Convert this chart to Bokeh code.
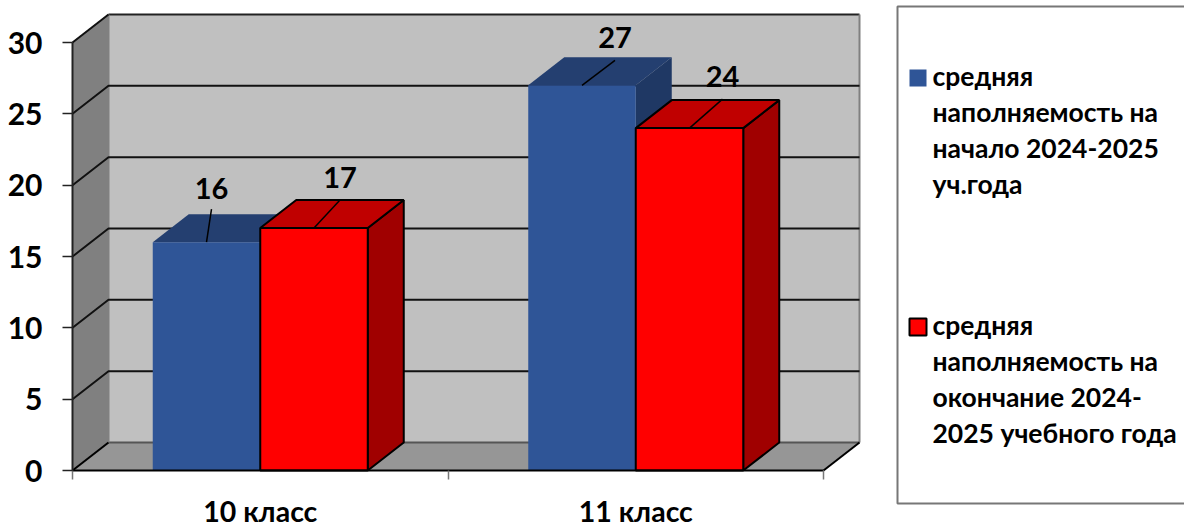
from bokeh.plotting import figure
from bokeh.embed import file_html
from bokeh.resources import INLINE
from bokeh.core.properties import value
from bokeh.models import Range1d, FixedTicker

categories = ["10 класс", "11 класс"]
series_names = [
    ["средняя", "наполняемость на", "начало 2024-2025", "уч.года"],
    ["средняя", "наполняемость на", "окончание 2024-", "2025 учебного года"],
]
start_values = [16, 27]
end_values = [17, 24]
y_ticks = [0, 5, 10, 15, 20, 25, 30]

FONT = "Lato"
W, H = 1184, 522
L, B = 72, 470              # pixel of x=0 / y=0
PX_X = 375.5                # pixels per category
PX_Y = 428 / 30             # pixels per value unit
DX, DY = 36 / PX_X, 28 / PX_Y   # 3D depth in data units
BW = 107.5 / PX_X           # bar width
XMAX = 2.0
YMAX = 30.0


def sx(px):
    return (px - L) / PX_X


def sy(py):
    return (B - py) / PX_Y


p = figure(width=W, height=H, output_backend="svg", toolbar_location=None,
           x_range=Range1d(sx(0), sx(W)), y_range=Range1d(sy(H), sy(0)),
           min_border_left=0, min_border_right=0, min_border_top=0,
           min_border_bottom=0, outline_line_color=None,
           background_fill_color="white", border_fill_color="white")
p.grid.visible = False

# walls
p.patch([0, DX, DX, 0], [0, DY, YMAX + DY, YMAX], fill_color="#808080", line_color="#6a6a6a", line_width=1)
p.patch([DX, XMAX + DX, XMAX + DX, DX], [DY, DY, YMAX + DY, YMAX + DY],
        fill_color="#c0c0c0", line_color=None)
p.line([DX, XMAX + DX], [YMAX + DY, YMAX + DY], line_color="#222222", line_width=2)
p.line([XMAX + DX, XMAX + DX], [DY, YMAX + DY], line_color="#808080", line_width=2)
p.patch([0, XMAX, XMAX + DX, DX], [0, 0, DY, DY], fill_color="#969696", line_color=None)
p.line([DX, XMAX + DX], [DY, DY], line_color="#555555", line_width=2)
p.line([DX, DX], [DY, YMAX + DY], line_color="#808080", line_width=2)
p.line([XMAX, XMAX + DX], [0, DY], line_color="black", line_width=2)

# gridlines
for t in y_ticks:
    if t == 0:
        p.line([0, DX], [0, DY], line_color="black", line_width=2)
    elif t == YMAX:
        p.line([0, DX], [t, t + DY], line_color="#111111", line_width=2)
    else:
        p.line([0, DX, XMAX + DX], [t, t + DY, t + DY], line_color="#111111", line_width=2)


def bar(x0, val, front, top, side, outline):
    x1 = x0 + BW
    lc = "black" if outline else None
    p.patch([x1, x1 + DX, x1 + DX, x1], [0, DY, val + DY, val], fill_color=side, line_color=lc, line_width=2)
    p.patch([x0, x0 + DX, x1 + DX, x1], [val, val + DY, val + DY, val], fill_color=top, line_color=lc, line_width=2)
    p.patch([x0, x1, x1, x0], [0, 0, val, val], fill_color=front, line_color=lc, line_width=2)


def leader(m, v, dx, dy, gap):
    p.line([m, m + dx / PX_X], [v, v + dy / PX_Y], line_color="black", line_width=1.5)
    p.text([m + dx / PX_X], [v + gap / PX_Y], text=[str(v)], text_font=value(FONT), text_font_style="bold",
           text_font_size="29px", text_align="center", text_baseline="bottom", text_color="black")


for i in range(len(categories)):
    c = i + 0.5
    bar(c - BW, start_values[i], "#2f5597", "#243f70", "#1f3864", False)
    bar(c, end_values[i], "#ff0000", "#c00000", "#a00000", True)

# leaders and data labels
leader(0.5 - BW / 2, start_values[0], 5, 33, 43)
leader(0.5 + BW / 2, end_values[0], 26, 28, 40)
leader(1.5 - BW / 2, start_values[1], 33, 25, 37)
leader(1.5 + BW / 2, end_values[1], 33, 29, 41)

# axes
ya = p.yaxis[0]
ya.fixed_location = 0
ya.ticker = FixedTicker(ticks=y_ticks)
ya.bounds = (0, YMAX)
ya.axis_line_color = "#222222"
ya.axis_line_width = 2
ya.major_tick_line_color = "#222222"
ya.major_tick_line_width = 1.5
ya.major_tick_in = 0
ya.major_tick_out = 10
ya.minor_tick_line_color = None
ya.major_label_text_font = FONT
ya.major_label_text_font_style = "bold"
ya.major_label_text_font_size = "30px"
ya.major_label_text_color = "black"
ya.major_label_standoff = 20

xa = p.xaxis[0]
xa.fixed_location = 0
xa.ticker = FixedTicker(ticks=[0, 1, 2])
xa.major_label_overrides = {0: "", 1: "", 2: ""}
xa.bounds = (0, XMAX)
xa.axis_line_color = "black"
xa.axis_line_width = 2
xa.major_tick_line_color = "#777777"
xa.major_tick_line_width = 1.5
xa.major_tick_in = 0
xa.major_tick_out = 9
xa.minor_tick_line_color = None

p.text([0.5, 1.5], [sy(510), sy(510)], text=categories, text_font=value(FONT), text_font_style="bold",
       text_font_size="28.5px", text_align="center", text_baseline="middle", text_color="black")

# legend box
p.patch([sx(897), sx(1190), sx(1190), sx(897)], [sy(6), sy(6), sy(503), sy(503)],
        fill_color="white", line_color="#777777", line_width=2)
swatches = [("#2f5597", None, 69), ("#ff0000", "black", 318)]
for (col, lc, top), lines in zip(swatches, series_names):
    p.quad(left=[sx(909)], right=[sx(926)], top=[sy(top)], bottom=[sy(top + 17)],
           fill_color=col, line_color=lc, line_width=2)
    for k, s in enumerate(lines):
        p.text([sx(932)], [sy(top + 6 + k * 36)], text=[s], text_font=value(FONT), text_font_style="bold",
               text_font_size="26.5px", text_align="left", text_baseline="middle", text_color="black")

open("out.html", "w").write(file_html(p, INLINE))
